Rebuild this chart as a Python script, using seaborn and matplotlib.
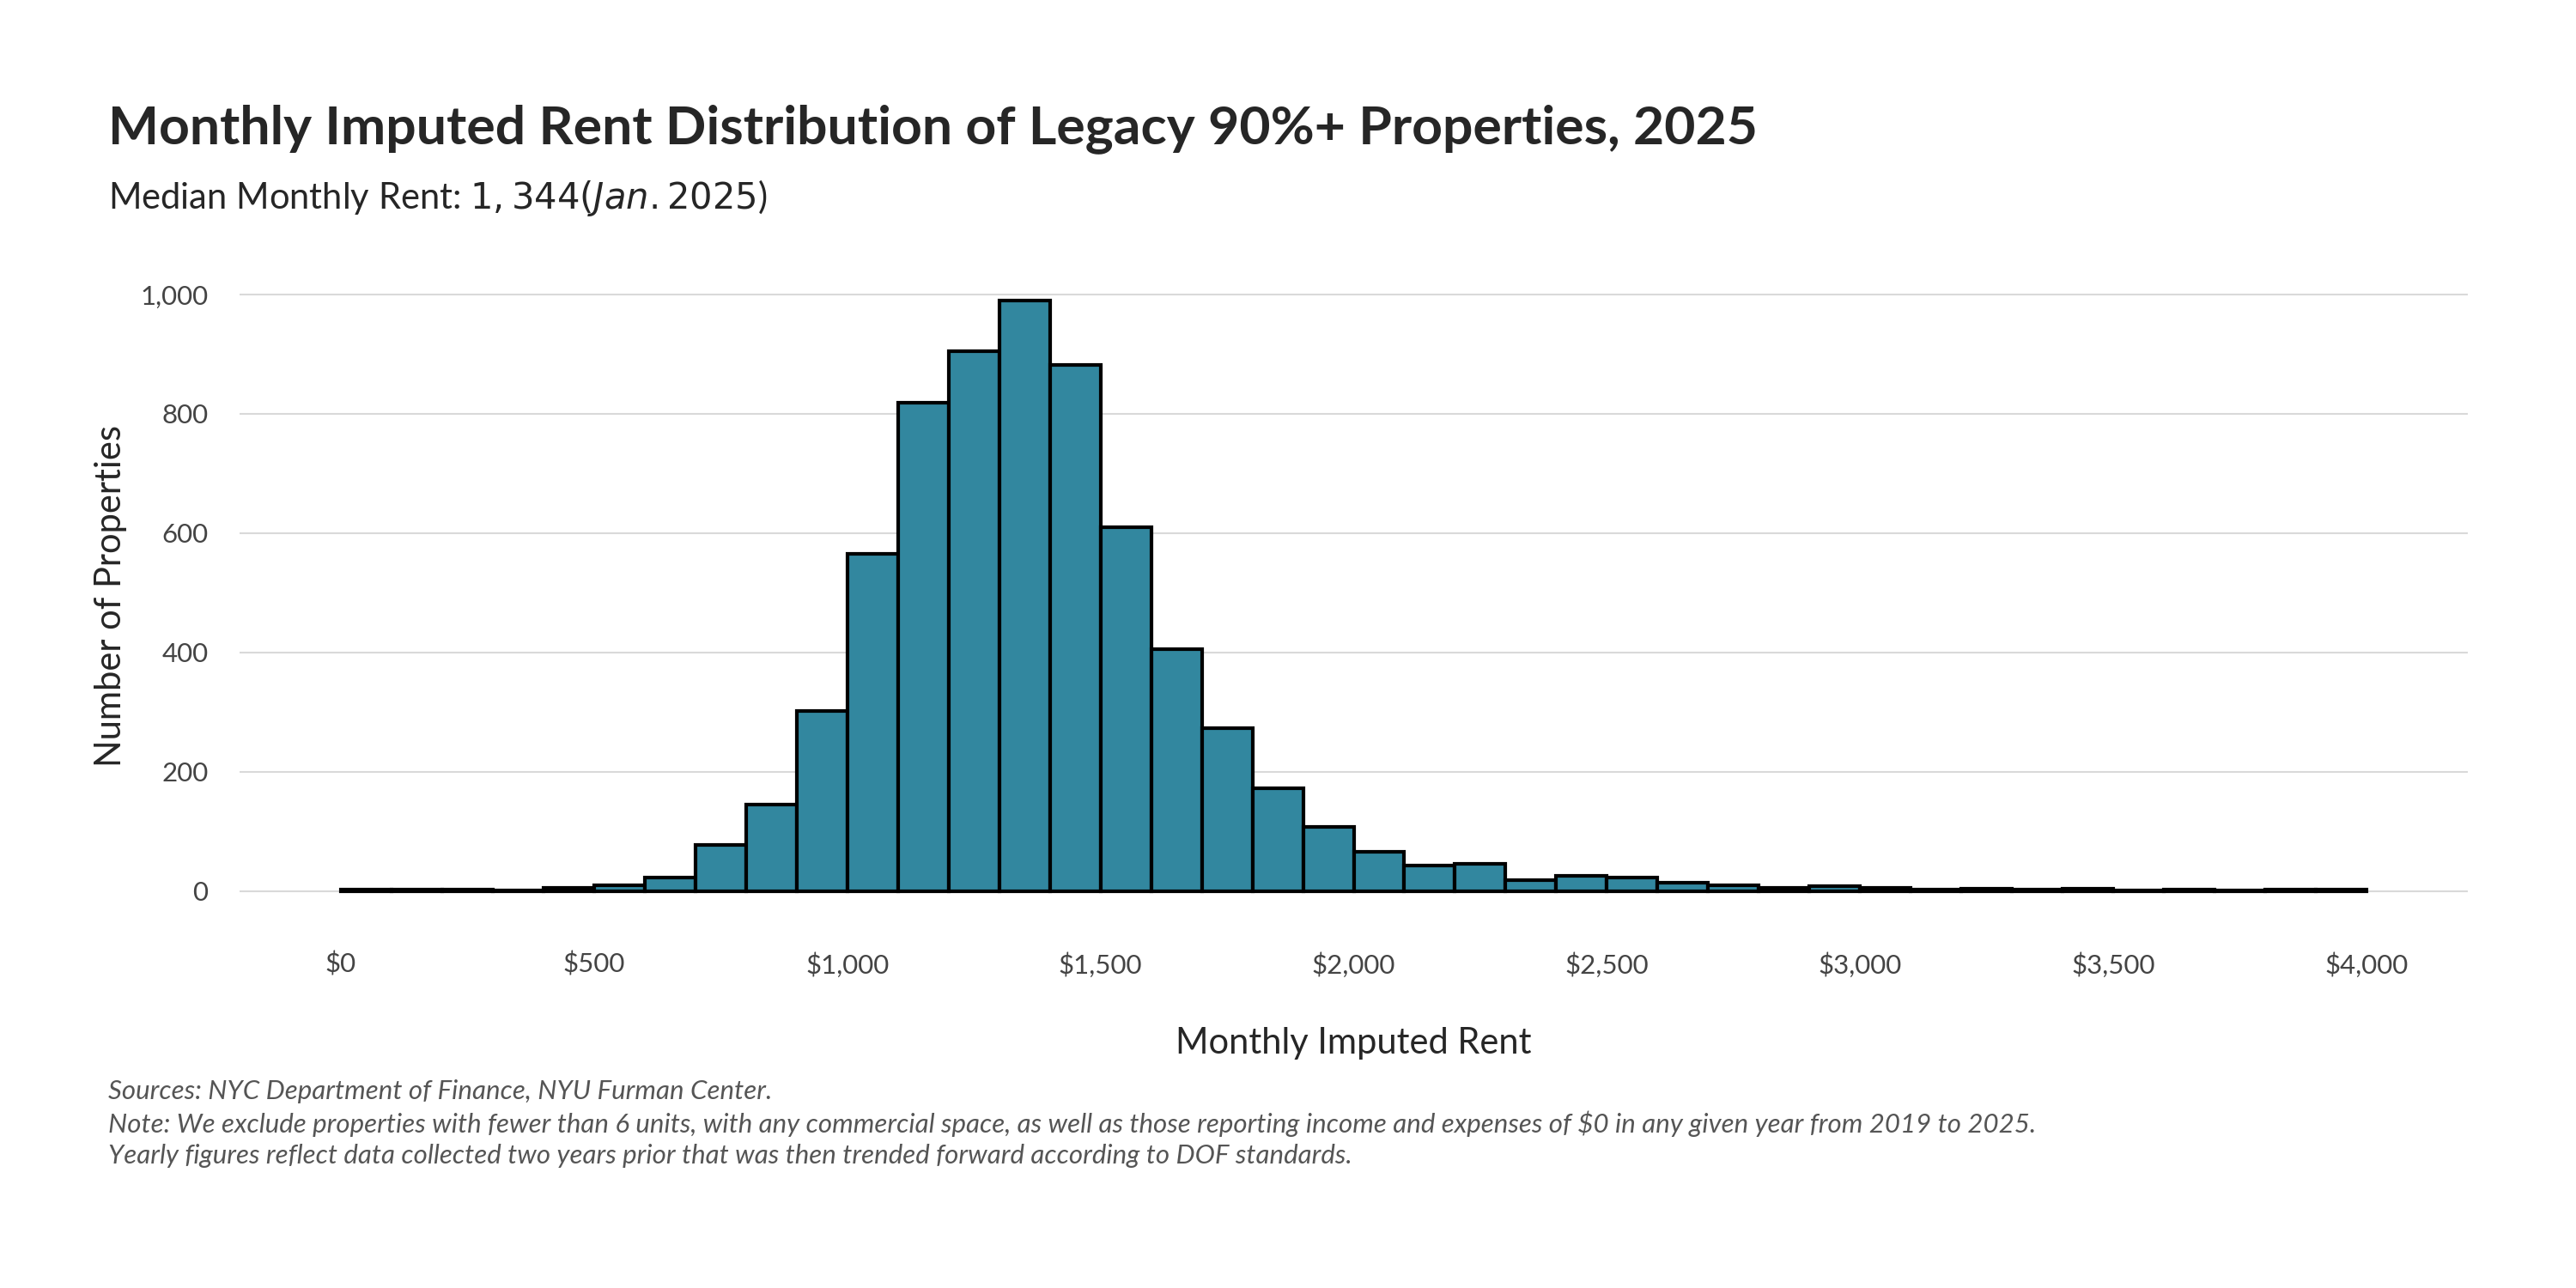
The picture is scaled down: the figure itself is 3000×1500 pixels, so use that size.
import numpy as np
import pandas as pd
import matplotlib.pyplot as plt
import seaborn as sns

# bin left edges ($100 bins) and counts
bin_left = list(range(0, 4000, 100))
counts = [3, 2, 2, 1, 5, 10, 22, 78, 145, 302,
          565, 818, 905, 990, 882, 610, 405, 273, 172, 107,
          66, 43, 46, 19, 26, 22, 14, 10, 6, 8,
          5, 2, 4, 2, 4, 1, 3, 1, 2, 2]

x_ticks = [0, 500, 1000, 1500, 2000, 2500, 3000, 3500, 4000]
y_ticks = [0, 200, 400, 600, 800, 1000]

df = pd.DataFrame({"rent": [b + 50 for b in bin_left], "n": counts})

sns.set_style("white")
plt.rcParams["font.family"] = ["Lato", "DejaVu Sans"]

fig = plt.figure(figsize=(16, 8), dpi=187.5)
ax = fig.add_axes([0.093, 0.285, 0.865, 0.505])

sns.histplot(data=df, x="rent", weights="n", binwidth=100, binrange=(0, 4000),
             color="#32879f", alpha=1, edgecolor="black", linewidth=1.6, ax=ax)

ax.set_xlim(-200, 4200)
ax.set_ylim(-50, 1040)
ax.set_xticks(x_ticks)
ax.set_xticklabels([f"${v:,}" for v in x_ticks], fontsize=12, color="#444444")
ax.set_yticks(y_ticks)
ax.set_yticklabels([f"{v:,}" for v in y_ticks], fontsize=12, color="#444444")
ax.tick_params(length=0, pad=14)
ax.grid(axis="y", color="#d9d9d9", linewidth=0.8)
ax.set_axisbelow(True)
for s in ax.spines.values():
    s.set_visible(False)

ax.set_xlabel("Monthly Imputed Rent", fontsize=16, labelpad=22)
ax.set_ylabel("Number of Properties", fontsize=16, labelpad=6)

fig.text(0.042, 0.9, "Monthly Imputed Rent Distribution of Legacy 90%+ Properties, 2025",
         fontsize=24, fontweight="bold", va="center")
fig.text(0.042, 0.846, "Median Monthly Rent: $1,344 (Jan. 2025$)", fontsize=16, va="center")

notes = ("Sources: NYC Department of Finance, NYU Furman Center.\n"
         "Note: We exclude properties with fewer than 6 units, with any commercial space, as well as those "
         "reporting income and expenses of $0 in any given year from 2019 to 2025.\n"
         "Yearly figures reflect data collected two years prior that was then trended forward according to DOF standards.")
fig.text(0.042, 0.162, notes, fontsize=12, style="italic", color="#555555",
         va="top", linespacing=1.35)

fig.savefig("out.png", dpi=187.5)
